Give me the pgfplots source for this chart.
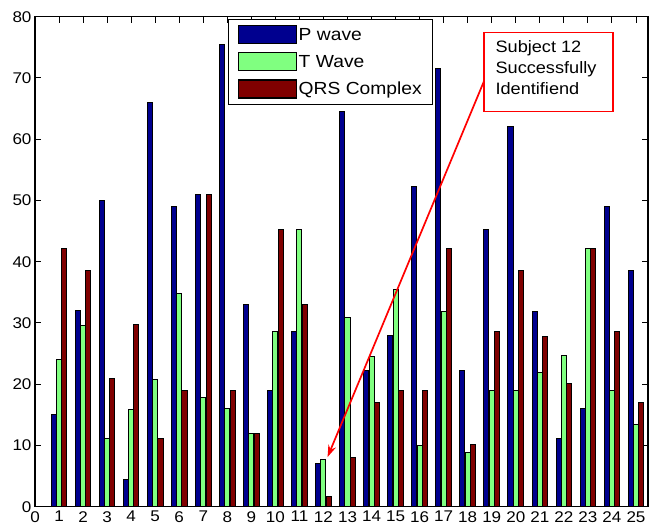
\documentclass[border=0pt]{standalone}
\usepackage{pgfplots}
\pgfplotsset{compat=1.18}
\usepackage{fontspec}
\setmainfont{Liberation Sans}[FakeStretch=1.1]
\usetikzlibrary{arrows.meta}

\definecolor{pwave}{rgb}{0,0,0.56}
\definecolor{twave}{rgb}{0.5,1,0.5}
\definecolor{qrs}{rgb}{0.5,0,0}

% amplitude of each wave component per subject (1..25)
\pgfplotstableread{
subj P    T    Q
1    15   24   42.2
2    32   29.6 38.6
3    50   11.2 21
4    4.4  15.8 29.7
5    66   20.8 11.2
6    49   34.8 19
7    51   17.8 51
8    75.5 16   19
9    33   12   12
10   19   28.6 45.2
11   28.6 45.2 33
12   7    7.7  1.6
13   64.5 30.9 8.1
14   22.2 24.6 17
15   28   35.5 19
16   52.2 10   19
17   71.5 31.8 42.2
18   22.2 8.9  10.2
19   45.2 18.9 28.6
20   62   18.9 38.6
21   31.8 21.9 27.8
22   11.2 24.7 20.1
23   16   42.2 42.2
24   49   18.9 28.6
25   38.6 13.4 17
}\wavedata

\pgfplotsset{
  wavebar/.style={ybar, bar width=0.21, draw=black, line width=1pt,
    legend image code/.code={\draw[##1, line width=1.1pt] (0pt,-9pt) rectangle (58pt,9pt);}},
}

\begin{document}
\begin{tikzpicture}
\begin{axis}[
  at={(0,0)}, anchor=south west,
  scale only axis, width=613pt, height=490pt,
  xmin=0, xmax=25.5, ymin=0, ymax=80,
  xtick={0,...,25}, ytick={0,10,...,80},
  tick align=inside, tick pos=both,
  major tick length=6pt,
  tick style={black, line width=0.9pt},
  axis line style={line width=1.3pt},
  /pgf/number format/assume math mode=true,
  every tick label/.append style={font=\fontsize{15.5}{16}\selectfont},
  xticklabel style={yshift=-1pt},
  legend style={at={(0.315,0.996)}, anchor=north west, draw=black, line width=1.1pt,
    font=\fontsize{17.5}{17.5}\selectfont, cells={anchor=west},
    row sep=8pt, inner xsep=9pt, inner ysep=6pt},
]
\addplot[wavebar, fill=pwave, bar shift=-0.22] table[x=subj, y=P] {\wavedata};
\addplot[wavebar, fill=twave, bar shift=0] table[x=subj, y=T] {\wavedata};
\addplot[wavebar, fill=qrs, bar shift=0.22] table[x=subj, y=Q] {\wavedata};
\legend{P wave, T Wave, QRS Complex}

\draw[red, line width=1.4pt] (axis cs:18.67,77.4) rectangle (axis cs:24.04,64.5);
\node[anchor=north west, align=left, inner sep=0pt, font=\fontsize{16.5}{21}\selectfont]
  at (axis cs:19.15,76.2) {Subject 12\\Successfully\\Identifiend};
\draw[red, line width=1.7pt, -{Stealth[length=12pt, width=8pt]}]
  (axis cs:18.67,69.4) -- (axis cs:12.17,8.1);
\end{axis}
\path (-35pt,-19.3pt) rectangle (616pt,506.7pt);
\end{tikzpicture}
\end{document}
